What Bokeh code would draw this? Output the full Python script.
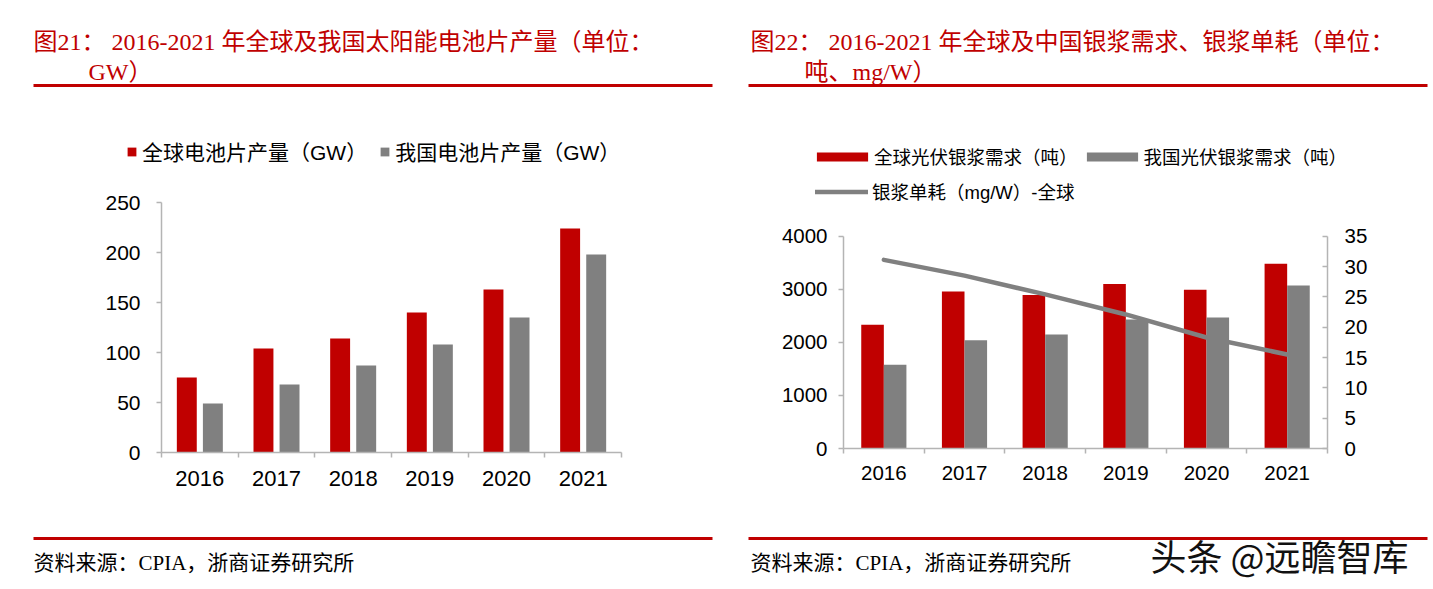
from bokeh.plotting import figure
from bokeh.layouts import row, column
from bokeh.models import (Range1d, LinearAxis, FixedTicker, Legend, LegendItem,
                          ColumnDataSource, Label)
from bokeh.transform import dodge
from bokeh.embed import file_html
from bokeh.resources import INLINE

# ---------------- data ----------------
years = ["2016", "2017", "2018", "2019", "2020", "2021"]
global_cells_gw = [75, 104, 114, 140, 163, 224]
china_cells_gw = [49, 68, 87, 108, 135, 198]
global_paste_t = [2330, 2960, 2890, 3100, 2990, 3480]
china_paste_t = [1580, 2040, 2150, 2430, 2470, 3070]
paste_mg_per_w = [31.1, 28.5, 25.4, 22.1, 18.3, 15.5]

left_ticks = [0, 50, 100, 150, 200, 250]
paste_ticks = [0, 1000, 2000, 3000, 4000]
unit_ticks = [0, 5, 10, 15, 20, 25, 30, 35]

title_left_1 = "图21：  2016-2021 年全球及我国太阳能电池片产量（单位："
title_left_2 = "GW）"
title_right_1 = "图22：  2016-2021 年全球及中国银浆需求、银浆单耗（单位："
title_right_2 = "吨、mg/W）"
legend_left = ["全球电池片产量（GW）", "我国电池片产量（GW）"]
legend_right = ["全球光伏银浆需求（吨）", "我国光伏银浆需求（吨）", "银浆单耗（mg/W）-全球"]
source_text = "资料来源：CPIA，浙商证券研究所"
watermark = "头条 @远瞻智库"

# ---------------- style / layout ----------------
RED = "#c00000"
GRAY = "#808080"
AXIS = "#b4b4b4"
SANS = "'Liberation Sans', 'Noto Sans CJK SC', sans-serif"
SERIF = "'Liberation Serif', 'Noto Sans CJK SC', serif"
CJK = "'Noto Sans CJK SC', sans-serif"

LW, RW = 720, 712
HH, CH, FH = 130, 365, 93
N = len(years)


def blank(w, h):
    p = figure(width=w, height=h, x_range=Range1d(0, w), y_range=Range1d(h, 0),
               output_backend="svg", toolbar_location=None, min_border=0,
               x_axis_location=None, y_axis_location=None, frame_align=False)
    p.grid.visible = False
    p.outline_line_color = None
    return p


def header(w, t1, t2, x1, x2, lx0, lx1):
    p = blank(w, HH)
    p.add_layout(Label(x=x1, y=41, text=t1, text_font=SERIF, text_font_size="24px",
                       text_color=RED, text_baseline="middle"))
    p.add_layout(Label(x=x2, y=71, text=t2, text_font=SERIF, text_font_size="24px",
                       text_color=RED, text_baseline="middle"))
    p.segment(x0=[lx0], y0=[85], x1=[lx1], y1=[85], line_color=RED, line_width=3)
    return p


def footer(w, x1, lx0, lx1, wm_x=None):
    p = blank(w, FH)
    p.segment(x0=[lx0], y0=[43], x1=[lx1], y1=[43], line_color=RED, line_width=3)
    p.add_layout(Label(x=x1, y=67, text=source_text, text_font=SERIF, text_font_size="21px",
                       text_color="black", text_baseline="middle"))
    if wm_x is not None:
        p.add_layout(Label(x=wm_x + 2, y=61, text=watermark, text_font=CJK,
                           text_font_size="36px", text_color="white", text_baseline="middle"))
        p.add_layout(Label(x=wm_x, y=59, text=watermark, text_font=CJK,
                           text_font_size="36px", text_color="#111111", text_baseline="middle"))
    return p


def style_axis(ax, size):
    ax.axis_line_color = AXIS
    ax.axis_line_width = 1.5
    ax.major_tick_line_color = AXIS
    ax.major_tick_line_width = 1.5
    ax.minor_tick_line_color = AXIS
    ax.minor_tick_line_width = 1.5
    ax.major_label_text_font = SANS
    ax.major_label_text_font_size = size
    ax.major_label_text_color = "black"


def x_axis(size, standoff):
    ax = LinearAxis(ticker=FixedTicker(ticks=list(range(N)),
                                       minor_ticks=[i - 0.5 for i in range(N + 1)]),
                    major_label_overrides={i: y for i, y in enumerate(years)},
                    bounds=(-0.5, N - 0.5), fixed_location=0)
    style_axis(ax, size)
    ax.major_tick_out = 0
    ax.major_tick_in = 0
    ax.minor_tick_out = 5
    ax.minor_tick_in = 0
    ax.major_label_standoff = standoff
    return ax


def x_range_for(w, px0, px1):
    unit = (px1 - px0) / N
    return Range1d(-0.5 - px0 / unit, N - 0.5 + (w - px1) / unit)


def y_range_for(zero_px, px_per_unit):
    # zero_px: distance of value 0 from top of chart figure
    return Range1d(-(CH - zero_px) / px_per_unit, zero_px / px_per_unit)


def chart_fig(w, xr, yr):
    p = figure(width=w, height=CH, x_range=xr, y_range=yr,
               output_backend="svg", toolbar_location=None, min_border=0,
               x_axis_location=None, y_axis_location=None, frame_align=False)
    p.grid.visible = False
    p.outline_line_color = None
    return p


def legend(items, loc, gw, gh, standoff, spacing, size):
    return Legend(items=items, orientation="horizontal", location=loc,
                  glyph_width=gw, glyph_height=gh, label_standoff=standoff, spacing=spacing,
                  padding=0, margin=0, border_line_color=None, background_fill_alpha=0,
                  label_text_font=SANS, label_text_font_size=size, label_text_color="black")


# ---------------- left chart ----------------
src1 = ColumnDataSource(dict(x=list(range(N)), g=global_cells_gw, c=china_cells_gw))
p1 = chart_fig(LW, x_range_for(LW, 161, 621), y_range_for(322, 1.0))
r1 = p1.vbar(x=dodge("x", -0.17), top="g", width=0.26, source=src1,
             fill_color=RED, line_color=None)
r2 = p1.vbar(x=dodge("x", 0.17), top="c", width=0.26, source=src1,
             fill_color=GRAY, line_color=None)
p1.add_layout(x_axis("22px", 13), "below")
ya1 = LinearAxis(ticker=FixedTicker(ticks=left_ticks), bounds=(0, 250), fixed_location=-0.5)
style_axis(ya1, "21px")
ya1.major_tick_out = 5
ya1.major_tick_in = 0
ya1.major_label_standoff = 16
p1.add_layout(ya1, "left")
p1.add_layout(legend([LegendItem(label=legend_left[0], renderers=[r1]),
                      LegendItem(label=legend_left[1], renderers=[r2])],
                     (126, 329), 11, 11, 5, 12, "21px"))

# ---------------- right chart ----------------
src2 = ColumnDataSource(dict(x=list(range(N)), g=global_paste_t, c=china_paste_t,
                             m=paste_mg_per_w))
p2 = chart_fig(RW, x_range_for(RW, 123, 607), y_range_for(318, 212.3 / 4000))
p2.extra_y_ranges = {"unit": y_range_for(318, 212.3 / 35)}
b1 = p2.vbar(x=dodge("x", -0.14), top="g", width=0.28, source=src2,
             fill_color=RED, line_color=None)
b2 = p2.vbar(x=dodge("x", 0.14), top="c", width=0.28, source=src2,
             fill_color=GRAY, line_color=None)
l1 = p2.line(x="x", y="m", source=src2, y_range_name="unit",
             line_color=GRAY, line_width=4.5, line_cap="round", line_join="round")
p2.add_layout(x_axis("20.5px", 12), "below")
ya2 = LinearAxis(ticker=FixedTicker(ticks=paste_ticks), bounds=(0, 4000), fixed_location=-0.5)
style_axis(ya2, "20.5px")
ya2.major_tick_out = 5
ya2.major_tick_in = 0
ya2.major_label_standoff = 11
p2.add_layout(ya2, "left")
ya3 = LinearAxis(ticker=FixedTicker(ticks=unit_ticks), bounds=(0, 35), y_range_name="unit",
                 fixed_location=N - 0.5)
style_axis(ya3, "20.5px")
ya3.major_tick_out = 0
ya3.major_tick_in = 5
ya3.major_label_standoff = 17
p2.add_layout(ya3, "right")
p2.add_layout(legend([LegendItem(label=legend_right[0], renderers=[b1]),
                      LegendItem(label=legend_right[1], renderers=[b2])],
                     (90, 326), 64, 11, -2, 2, "18.5px"))
p2.add_layout(legend([LegendItem(label=legend_right[2], renderers=[l1])],
                     (95, 291), 53, 11, 4, 12, "18.5px"))

# ---------------- assemble ----------------
left = column(header(LW, title_left_1, title_left_2, 33, 88, 33, 712), p1,
              footer(LW, 33, 33, 712))
right = column(header(RW, title_right_1, title_right_2, 30, 84, 28, 707), p2,
               footer(RW, 30, 28, 707, wm_x=430))
page = row(left, right)

open("out.html", "w").write(file_html(page, INLINE))
